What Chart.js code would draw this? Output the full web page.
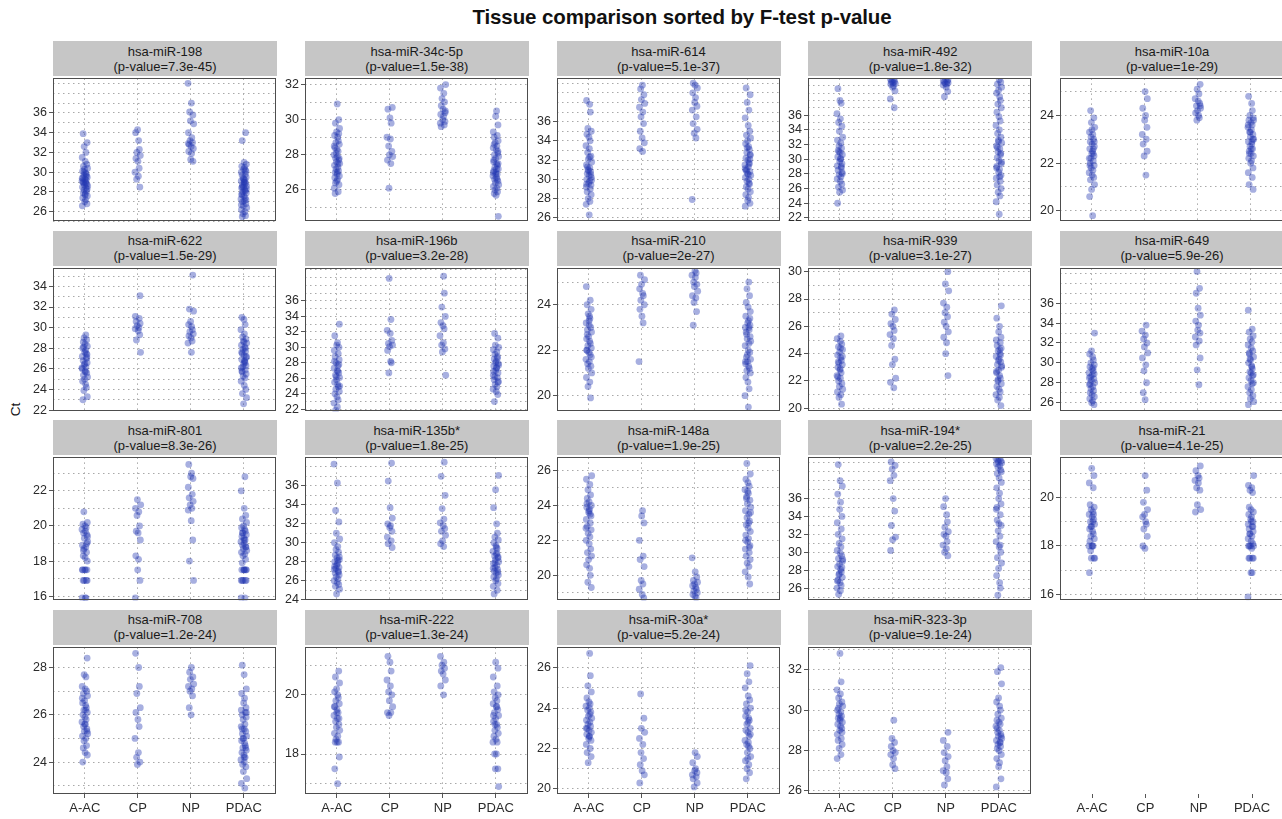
<!DOCTYPE html>
<html><head><meta charset="utf-8">
<script src="https://cdn.jsdelivr.net/npm/chart.js@4.4.1/dist/chart.umd.min.js"></script>
<style>
body{margin:0;background:#fff;width:1282px;height:819px;overflow:hidden;position:relative;font-family:"Liberation Sans",Arial,sans-serif;}
#title{position:absolute;left:382px;width:600px;top:5px;text-align:center;font-weight:bold;font-size:20.5px;color:#111;letter-spacing:-0.1px;}
.strip{position:absolute;background:#c6c6c6;text-align:center;font-size:13px;line-height:15px;color:#1a1a1a;box-sizing:border-box;padding-top:2.5px;white-space:nowrap;}
canvas{position:absolute;}
#ylab{position:absolute;left:3px;top:402px;width:24px;text-align:center;transform:rotate(-90deg);font-size:13.5px;color:#111;}
</style></head>
<body>
<div id="title">Tissue comparison sorted by F-test p-value</div>
<div id="ylab">Ct</div>
<script>
const CATEGORIES = ['A-AC','CP','NP','PDAC'];
const JITTER = [-0.031,0.044,-0.012,0.021,-0.049,0.008,0.037,-0.026,0.052,-0.004,-0.041,0.016,0.029,-0.018,0.047,-0.035,0.003,0.025,-0.053,0.011,-0.022,0.039,-0.008,0.055,-0.044,0.019,-0.015,0.033,-0.029,0.006,0.048,-0.038,0.014,-0.002,0.041,-0.047,0.027];

// hsa-miR-198
const miR198_TICKS=[26,28,30,32,34,36]; const miR198_RANGE=[25.0,39.5];
const miR198_AAC=[33.9,33.0,32.6,32.0,31.5,31.1,30.8,30.6,30.4,30.3,30.1,29.9,29.8,29.7,29.5,29.4,29.3,29.2,29.1,29.0,28.9,28.8,28.7,28.6,28.5,28.4,28.2,28.1,27.9,27.8,27.6,27.4,27.2,27.0,26.8,26.6,29.6,29.0,28.3,30.0,28.9,29.4,27.7];
const miR198_CP=[34.3,34.0,33.2,32.3,32.0,31.7,31.4,31.1,30.4,30.0,29.6,29.3,28.5];
const miR198_NP=[39.0,37.0,36.1,35.8,35.2,34.9,34.0,33.5,33.2,33.0,32.8,32.6,32.4,32.1,31.9,31.3,31.1,32.9];
const miR198_PDAC=[34.0,33.2,31.0,30.8,30.6,30.5,30.3,30.1,30.0,29.8,29.7,29.5,29.4,29.2,29.1,29.0,28.9,28.7,28.6,28.5,28.4,28.2,28.1,28.0,27.9,27.7,27.6,27.4,27.3,27.1,27.0,26.8,26.6,26.4,26.2,26.0,25.8,25.6,25.5,29.0,28.3,27.8,28.8,29.3,27.2,26.7,30.2,28.5];

// hsa-miR-34c-5p
const miR34c_TICKS=[26,28,30,32]; const miR34c_RANGE=[24.2,32.35];
const miR34c_AAC=[30.9,30.0,29.8,29.5,29.3,29.1,29.0,28.8,28.7,28.6,28.4,28.3,28.2,28.0,27.9,27.8,27.7,27.6,27.5,27.4,27.3,27.2,27.1,27.0,26.9,26.8,26.7,26.6,26.5,26.3,26.1,25.9,25.8,27.8,28.1,27.5,28.5,27.0,29.2,26.4];
const miR34c_CP=[30.7,30.6,30.1,29.8,29.0,28.9,28.5,28.2,28.0,27.9,27.7,27.5,26.1];
const miR34c_NP=[32.0,31.8,31.5,31.2,31.0,30.8,30.6,30.5,30.3,30.2,30.0,29.9,29.8,29.7,29.6,30.4];
const miR34c_PDAC=[30.5,30.2,29.7,29.3,29.1,29.0,28.8,28.7,28.5,28.4,28.3,28.1,28.0,27.9,27.8,27.6,27.5,27.4,27.3,27.2,27.1,27.0,26.9,26.8,26.7,26.6,26.5,26.4,26.3,26.2,26.1,26.0,25.9,25.8,25.7,24.5,27.7,27.2,26.9,28.2,27.0,26.6,28.6,27.5];

// hsa-miR-614
const miR614_TICKS=[26,28,30,32,34,36]; const miR614_RANGE=[25.6,40.5];
const miR614_AAC=[38.2,37.8,37.0,35.3,35.0,34.7,34.4,34.0,33.5,33.2,32.8,32.4,32.1,31.8,31.5,31.2,31.0,30.8,30.6,30.4,30.2,30.0,29.8,29.6,29.4,29.2,29.0,28.7,28.4,28.0,27.7,27.4,26.3,30.5,31.3,29.9,30.9,29.5,32.3];
const miR614_CP=[39.8,39.4,38.8,38.3,37.9,37.5,37.0,36.5,35.8,35.0,34.3,33.8,33.2,32.9];
const miR614_NP=[40.0,39.8,39.5,39.0,38.5,38.0,37.6,37.2,36.5,35.8,35.2,34.8,34.3,27.9];
const miR614_PDAC=[39.5,38.8,38.0,37.2,36.4,35.6,35.0,34.6,34.3,34.0,33.7,33.4,33.1,32.8,32.5,32.2,32.0,31.7,31.5,31.3,31.0,30.8,30.6,30.4,30.2,30.0,29.8,29.5,29.2,29.0,28.7,28.4,28.1,27.8,27.5,27.2,31.6,30.9,32.6,33.3,29.6,31.1,30.5,32.1];

// hsa-miR-492
const miR492_TICKS=[22,24,26,28,30,32,34,36]; const miR492_RANGE=[21.5,41.0];
const miR492_AAC=[39.6,38.0,37.6,36.2,35.5,35.0,34.5,33.8,33.0,32.6,32.2,31.8,31.5,31.2,30.9,30.6,30.3,30.0,29.7,29.4,29.1,28.8,28.5,28.2,27.9,27.6,27.3,27.0,26.6,26.2,25.8,25.5,24.0,30.1,29.0,31.0,28.0];
const miR492_CP=[40.9,40.8,40.7,40.6,40.5,40.4,40.3,40.2,40.0,39.8,39.3,38.2,37.0];
const miR492_NP=[40.9,40.8,40.7,40.6,40.5,40.4,40.3,40.2,40.1,39.8,39.2,38.5];
const miR492_PDAC=[40.8,40.5,40.2,39.8,39.4,39.0,38.5,38.0,37.5,37.0,36.4,35.8,35.2,34.6,34.0,33.5,33.0,32.6,32.2,31.8,31.4,31.0,30.6,30.2,29.8,29.4,29.0,28.6,28.2,27.8,27.4,27.0,26.5,26.0,25.5,25.0,24.2,22.5,30.8,31.6,29.6,32.4,28.8,27.6];

// hsa-miR-10a
const miR10a_TICKS=[20,22,24]; const miR10a_RANGE=[19.55,25.55];
const miR10a_AAC=[24.2,23.9,23.7,23.5,23.3,23.2,23.1,23.0,22.9,22.8,22.7,22.6,22.5,22.4,22.3,22.2,22.1,22.0,21.9,21.8,21.7,21.6,21.5,21.4,21.3,21.1,20.9,20.6,19.8,22.6,22.2,22.9,21.9,23.4,22.4];
const miR10a_CP=[25.0,24.7,24.3,24.0,23.8,23.5,23.2,23.0,22.8,22.5,22.3,21.5];
const miR10a_NP=[25.3,25.1,24.9,24.7,24.6,24.5,24.4,24.3,24.2,24.1,24.0,23.9,23.8,24.4];
const miR10a_PDAC=[24.8,24.5,24.2,24.0,23.9,23.8,23.7,23.6,23.5,23.4,23.3,23.2,23.1,23.0,22.9,22.8,22.7,22.6,22.5,22.4,22.3,22.2,22.1,22.0,21.8,21.6,21.4,21.1,20.9,23.3,22.9,23.6,22.6,23.0,22.4,23.8];

// hsa-miR-622
const miR622_TICKS=[22,24,26,28,30,32,34]; const miR622_RANGE=[21.85,35.75];
const miR622_AAC=[29.3,29.0,28.8,28.6,28.4,28.2,28.0,27.8,27.6,27.4,27.2,27.0,26.8,26.6,26.4,26.2,26.0,25.8,25.6,25.4,25.2,25.0,24.8,24.5,24.2,23.9,23.3,23.0,26.5,27.5,26.1,25.7,28.1,27.1];
const miR622_CP=[33.1,31.1,30.9,30.6,30.4,30.2,30.0,29.9,29.7,29.3,28.8,27.6];
const miR622_NP=[35.1,31.8,31.6,30.6,30.3,30.1,29.8,29.6,29.4,29.2,29.0,28.7,28.5,27.6];
const miR622_PDAC=[31.0,30.8,30.3,29.8,29.4,29.1,28.9,28.7,28.5,28.3,28.1,27.9,27.7,27.5,27.3,27.1,26.9,26.7,26.5,26.3,26.1,25.9,25.7,25.5,25.3,25.1,24.8,24.4,24.0,23.6,23.2,22.6,27.6,26.8,28.0,26.2,27.2,25.8,28.6,26.6];

// hsa-miR-196b
const miR196b_TICKS=[22,24,26,28,30,32,34,36]; const miR196b_RANGE=[21.7,40.2];
const miR196b_AAC=[33.0,31.5,30.6,30.3,30.0,29.6,29.2,28.8,28.4,28.0,27.6,27.3,27.0,26.7,26.4,26.1,25.8,25.5,25.2,24.9,24.6,24.3,24.0,23.6,23.2,22.8,22.3,21.9,27.8,26.2,25.0,28.2,26.9];
const miR196b_CP=[38.9,33.6,32.2,31.8,30.9,30.5,30.3,30.1,29.6,28.2,28.0,26.7];
const miR196b_NP=[39.2,37.0,35.2,34.0,33.2,32.8,32.4,31.5,30.6,30.3,29.8,29.4,26.4];
const miR196b_PDAC=[31.8,31.2,30.3,30.0,29.7,29.4,29.1,28.8,28.5,28.2,27.9,27.6,27.3,27.0,26.7,26.4,26.1,25.8,25.5,25.2,24.9,24.6,24.3,23.9,23.0,27.7,28.0,26.9,27.4,28.6,26.2,25.6];

// hsa-miR-210
const miR210_TICKS=[20,22,24]; const miR210_RANGE=[19.3,25.6];
const miR210_AAC=[24.8,24.2,24.0,23.8,23.6,23.4,23.2,23.1,23.0,22.9,22.8,22.6,22.5,22.4,22.3,22.2,22.1,22.0,21.9,21.8,21.6,21.5,21.4,21.3,21.2,21.0,20.8,20.6,20.4,19.9,22.7,23.3,21.7,22.0,23.5];
const miR210_CP=[25.3,25.1,24.9,24.7,24.5,24.4,24.2,24.0,23.8,23.5,23.2,21.5];
const miR210_NP=[25.5,25.4,25.3,25.2,25.0,24.9,24.8,24.6,24.4,24.3,24.1,23.7,23.1];
const miR210_PDAC=[25.0,24.7,24.4,24.1,23.9,23.7,23.5,23.3,23.2,23.1,23.0,22.9,22.8,22.6,22.5,22.3,22.2,22.0,21.9,21.7,21.6,21.5,21.4,21.3,21.2,21.1,21.0,20.8,20.6,20.3,20.0,19.5,22.7,23.4,21.8,22.4,21.5,23.0];

// hsa-miR-939
const miR939_TICKS=[20,22,24,26,28,30]; const miR939_RANGE=[19.76,30.24];
const miR939_AAC=[25.3,25.1,24.9,24.7,24.5,24.3,24.1,23.9,23.7,23.5,23.3,23.2,23.0,22.8,22.6,22.4,22.2,22.0,21.8,21.6,21.4,21.2,21.0,20.8,20.3,23.4,22.9,23.8,22.3,24.4];
const miR939_CP=[27.2,26.9,26.5,26.2,26.0,25.7,25.4,25.1,24.6,23.6,23.2,22.2,21.9,21.5];
const miR939_NP=[30.0,29.1,28.6,27.7,27.4,27.0,26.7,26.3,26.0,25.6,25.2,24.8,24.0,22.4];
const miR939_PDAC=[27.5,26.6,26.0,25.6,25.2,25.0,24.8,24.6,24.4,24.2,24.0,23.8,23.6,23.4,23.2,23.0,22.8,22.6,22.4,22.2,22.0,21.8,21.6,21.4,21.2,21.0,20.8,20.6,20.2,23.5,23.1,22.7,24.3,22.1,23.9];

// hsa-miR-649
const miR649_TICKS=[26,28,30,32,34,36]; const miR649_RANGE=[25.1,39.5];
const miR649_AAC=[33.0,31.2,30.9,30.6,30.3,30.0,29.8,29.6,29.4,29.2,29.0,28.8,28.6,28.4,28.2,28.0,27.8,27.6,27.4,27.2,27.0,26.8,26.6,26.4,26.2,26.0,25.8,28.5,29.5,27.9,28.9];
const miR649_CP=[33.8,33.2,32.8,32.4,32.0,31.6,31.0,30.5,29.8,29.2,28.0,27.0,26.3];
const miR649_NP=[39.2,37.5,37.0,35.5,34.8,34.2,33.8,33.3,33.0,32.6,32.2,31.8,30.5,29.3,27.8];
const miR649_PDAC=[35.3,33.4,33.1,32.7,32.4,32.1,31.8,31.5,31.2,30.9,30.6,30.3,30.0,29.7,29.4,29.1,28.8,28.5,28.2,27.9,27.6,27.3,27.0,26.7,26.4,26.1,25.8,29.6,30.4,28.7,31.0,29.0,28.0];

// hsa-miR-801
const miR801_TICKS=[16,18,20,22]; const miR801_RANGE=[15.75,23.9];
const miR801_AAC=[20.8,20.2,20.1,20.0,19.9,19.8,19.7,19.6,19.5,19.3,19.1,18.9,18.8,18.7,18.5,18.3,18.2,18.0,17.5,17.5,17.5,17.5,17.5,16.9,16.9,16.9,16.9,15.9,15.9,15.9,19.0,18.6,19.4];
const miR801_CP=[21.5,21.2,21.0,20.8,20.6,20.0,19.7,19.6,19.2,18.3,18.1,17.5,16.9,15.9];
const miR801_NP=[23.5,23.0,22.8,22.7,22.2,21.8,21.6,21.4,21.2,21.0,20.9,20.3,19.2,18.0,16.9];
const miR801_PDAC=[22.8,22.0,21.0,20.6,20.4,20.2,20.0,19.9,19.8,19.7,19.6,19.5,19.4,19.3,19.2,19.1,19.0,18.9,18.8,18.7,18.6,18.5,18.4,18.3,18.1,17.9,17.5,17.5,17.5,17.5,17.5,17.5,16.9,16.9,16.9,16.9,16.9,15.9,15.9,19.2,18.8,19.6];

// hsa-miR-135b*
const miR135b_TICKS=[24,26,28,30,32,34,36]; const miR135b_RANGE=[23.9,39.0];
const miR135b_AAC=[38.3,36.3,33.4,32.2,31.0,30.4,30.0,29.6,29.3,29.0,28.7,28.4,28.2,28.0,27.8,27.6,27.4,27.2,27.0,26.8,26.6,26.4,26.2,26.0,25.8,25.6,25.4,25.1,24.6,27.5,28.1,26.9,27.3,28.5];
const miR135b_CP=[38.4,36.5,33.7,32.6,32.0,31.8,31.6,31.2,30.6,30.2,29.9,29.5];
const miR135b_NP=[38.5,37.0,35.0,33.6,32.5,32.1,31.8,31.5,31.2,30.8,30.2,29.9,29.6];
const miR135b_PDAC=[37.1,35.6,33.7,32.0,31.0,30.6,30.3,30.0,29.7,29.4,29.1,28.8,28.6,28.4,28.2,28.0,27.8,27.6,27.4,27.2,27.0,26.8,26.6,26.4,26.2,26.0,25.7,25.4,25.0,24.6,28.5,27.9,28.9,27.3,29.5,26.9];

// hsa-miR-148a
const miR148a_TICKS=[20,22,24,26]; const miR148a_RANGE=[18.55,26.75];
const miR148a_AAC=[25.7,25.5,25.2,24.9,24.6,24.4,24.2,24.0,23.9,23.8,23.6,23.4,23.2,23.0,22.8,22.6,22.4,22.2,22.0,21.8,21.5,21.3,21.1,20.9,20.6,20.4,20.0,19.6,19.3,24.1,23.7,23.5,22.7];
const miR148a_CP=[23.7,23.4,23.0,22.0,21.1,20.9,20.5,19.7,19.5,19.2,18.9,18.7];
const miR148a_NP=[21.0,20.2,19.9,19.7,19.6,19.5,19.4,19.3,19.2,19.1,19.0,18.9,18.8,18.7];
const miR148a_PDAC=[26.4,25.8,25.5,25.3,25.1,24.9,24.7,24.5,24.3,24.1,23.9,23.7,23.5,23.3,23.1,22.9,22.7,22.5,22.3,22.1,21.9,21.7,21.5,21.3,21.1,20.9,20.7,20.5,20.2,19.9,19.5,24.4,23.6,24.8,22.0,23.0,21.6];

// hsa-miR-194*
const miR194_TICKS=[26,28,30,32,34,36]; const miR194_RANGE=[24.6,40.6];
const miR194_AAC=[39.8,38.0,37.4,36.5,35.6,34.8,34.0,33.3,32.6,32.0,31.5,31.0,30.6,30.2,29.9,29.6,29.3,29.0,28.7,28.4,28.1,27.8,27.5,27.2,26.9,26.6,26.3,26.0,25.7,25.3,28.3,27.6,29.2,26.8];
const miR194_CP=[40.1,39.7,39.3,38.6,38.0,36.0,34.6,33.0,31.7,31.4,30.2];
const miR194_NP=[36.0,35.1,34.2,33.4,32.8,32.3,32.0,31.8,31.2,30.8,30.4,30.0,29.6];
const miR194_PDAC=[40.5,40.4,40.3,40.2,40.1,40.0,39.9,39.7,39.5,39.2,38.8,38.3,37.8,37.2,36.6,36.0,35.4,34.8,34.2,33.6,33.0,32.4,31.8,31.2,30.6,30.0,29.4,28.8,28.2,27.4,26.6,26.0,25.2,39.0,35.0,33.2,30.8];

// hsa-miR-21
const miR21_TICKS=[16,18,20]; const miR21_RANGE=[15.75,21.65];
const miR21_AAC=[21.2,20.9,20.6,20.4,19.7,19.6,19.5,19.4,19.3,19.2,19.1,19.0,18.9,18.8,18.7,18.6,18.5,18.4,18.3,18.2,18.0,18.0,18.0,18.0,17.8,17.5,17.5,17.5,16.9,19.0,18.8,19.3];
const miR21_CP=[20.9,20.3,19.8,19.5,19.3,19.2,19.0,18.9,18.7,18.4,18.0,17.9];
const miR21_NP=[21.3,21.1,20.9,20.8,20.7,20.6,20.4,20.3,19.7,19.5,19.4];
const miR21_PDAC=[20.9,20.5,20.4,20.3,20.2,19.6,19.5,19.4,19.3,19.2,19.1,19.0,18.9,18.8,18.7,18.6,18.5,18.4,18.3,18.2,18.1,18.0,18.0,18.0,18.0,17.9,17.5,17.5,17.5,17.5,16.9,16.9,15.9,19.0,18.5,18.8];

// hsa-miR-708
const miR708_TICKS=[24,26,28]; const miR708_RANGE=[22.65,28.85];
const miR708_AAC=[28.4,27.7,27.6,27.2,27.1,27.0,26.9,26.8,26.6,26.5,26.4,26.3,26.2,26.1,26.0,25.9,25.8,25.7,25.6,25.5,25.4,25.3,25.2,25.1,25.0,24.9,24.7,24.6,24.4,24.3,24.0,26.2,25.6,25.3,26.7];
const miR708_CP=[28.6,28.0,27.2,26.9,26.3,26.1,25.8,25.5,25.0,24.4,24.2,24.0,23.9];
const miR708_NP=[28.0,27.8,27.6,27.5,27.3,27.2,27.1,27.0,26.8,26.3,26.0];
const miR708_PDAC=[28.1,27.7,27.1,26.9,26.7,26.5,26.3,26.2,26.1,26.0,25.9,25.8,25.6,25.5,25.4,25.3,25.2,25.1,25.0,24.9,24.8,24.7,24.6,24.5,24.4,24.3,24.2,24.1,24.0,23.9,23.8,23.6,23.3,23.1,22.9,25.0,24.6,25.4,24.2,26.1];

// hsa-miR-222
const miR222_TICKS=[18,20]; const miR222_RANGE=[16.65,21.6];
const miR222_AAC=[20.8,20.6,20.4,20.2,20.1,20.0,19.9,19.8,19.7,19.6,19.5,19.4,19.3,19.2,19.1,19.0,18.9,18.8,18.7,18.6,18.5,18.4,18.4,18.4,17.9,17.5,17.0,19.4,19.2,19.6];
const miR222_CP=[21.3,21.1,20.8,20.5,20.3,20.1,20.0,19.8,19.6,19.4,19.4,19.3];
const miR222_NP=[21.3,21.1,21.0,20.9,20.8,20.7,20.5,20.3,20.0];
const miR222_PDAC=[21.1,20.9,20.6,20.3,20.1,20.0,19.9,19.8,19.7,19.6,19.5,19.4,19.3,19.2,19.1,19.0,18.9,18.8,18.7,18.6,18.5,18.4,18.4,18.0,18.0,17.5,17.5,16.9,19.3,19.6,19.0];

// hsa-miR-30a*
const miR30a_TICKS=[20,22,24,26]; const miR30a_RANGE=[19.75,27.0];
const miR30a_AAC=[26.7,25.6,25.1,24.8,24.5,24.3,24.2,24.1,24.0,23.9,23.8,23.6,23.5,23.4,23.3,23.2,23.1,23.0,22.9,22.8,22.7,22.6,22.5,22.4,22.2,22.0,21.8,21.6,21.3,23.7,23.0,22.6];
const miR30a_CP=[24.7,23.5,23.0,22.8,22.5,22.2,21.8,21.5,21.2,20.9,20.7,20.3];
const miR30a_NP=[21.8,21.6,21.3,21.0,20.9,20.8,20.7,20.6,20.5,20.3,20.1];
const miR30a_PDAC=[26.1,25.7,25.3,25.0,24.6,24.4,24.2,24.0,23.8,23.6,23.5,23.4,23.2,23.0,22.9,22.8,22.6,22.4,22.3,22.2,22.0,21.8,21.6,21.4,21.2,21.0,20.8,20.5,23.3,22.7,23.9,22.1,21.5];

// hsa-miR-323-3p
const miR323_TICKS=[26,28,30,32]; const miR323_RANGE=[25.85,33.1];
const miR323_AAC=[32.8,31.4,31.0,30.8,30.6,30.4,30.3,30.2,30.0,29.9,29.8,29.7,29.6,29.5,29.4,29.3,29.2,29.0,28.9,28.8,28.6,28.5,28.3,28.1,27.8,27.6,29.6,29.1,30.1];
const miR323_CP=[29.5,28.6,28.4,28.2,28.0,27.9,27.8,27.6,27.3,27.1];
const miR323_NP=[28.9,28.5,28.2,27.9,27.7,27.5,27.2,27.0,26.9,26.6,26.3];
const miR323_PDAC=[32.1,31.9,31.3,30.6,30.4,30.2,30.0,29.8,29.6,29.5,29.4,29.3,29.2,29.0,28.9,28.8,28.7,28.6,28.5,28.4,28.3,28.2,28.1,28.0,27.8,27.6,27.4,27.2,26.6,26.2,28.4,29.1,28.7];

const PANELS = [
 {gene:'hsa-miR-198', p:'7.3e-45', ticks:miR198_TICKS, range:miR198_RANGE, groups:[miR198_AAC,miR198_CP,miR198_NP,miR198_PDAC]},
 {gene:'hsa-miR-34c-5p', p:'1.5e-38', ticks:miR34c_TICKS, range:miR34c_RANGE, groups:[miR34c_AAC,miR34c_CP,miR34c_NP,miR34c_PDAC]},
 {gene:'hsa-miR-614', p:'5.1e-37', ticks:miR614_TICKS, range:miR614_RANGE, groups:[miR614_AAC,miR614_CP,miR614_NP,miR614_PDAC]},
 {gene:'hsa-miR-492', p:'1.8e-32', ticks:miR492_TICKS, range:miR492_RANGE, groups:[miR492_AAC,miR492_CP,miR492_NP,miR492_PDAC]},
 {gene:'hsa-miR-10a', p:'1e-29', ticks:miR10a_TICKS, range:miR10a_RANGE, groups:[miR10a_AAC,miR10a_CP,miR10a_NP,miR10a_PDAC]},
 {gene:'hsa-miR-622', p:'1.5e-29', ticks:miR622_TICKS, range:miR622_RANGE, groups:[miR622_AAC,miR622_CP,miR622_NP,miR622_PDAC]},
 {gene:'hsa-miR-196b', p:'3.2e-28', ticks:miR196b_TICKS, range:miR196b_RANGE, groups:[miR196b_AAC,miR196b_CP,miR196b_NP,miR196b_PDAC]},
 {gene:'hsa-miR-210', p:'2e-27', ticks:miR210_TICKS, range:miR210_RANGE, groups:[miR210_AAC,miR210_CP,miR210_NP,miR210_PDAC]},
 {gene:'hsa-miR-939', p:'3.1e-27', ticks:miR939_TICKS, range:miR939_RANGE, groups:[miR939_AAC,miR939_CP,miR939_NP,miR939_PDAC]},
 {gene:'hsa-miR-649', p:'5.9e-26', ticks:miR649_TICKS, range:miR649_RANGE, groups:[miR649_AAC,miR649_CP,miR649_NP,miR649_PDAC]},
 {gene:'hsa-miR-801', p:'8.3e-26', ticks:miR801_TICKS, range:miR801_RANGE, groups:[miR801_AAC,miR801_CP,miR801_NP,miR801_PDAC]},
 {gene:'hsa-miR-135b*', p:'1.8e-25', ticks:miR135b_TICKS, range:miR135b_RANGE, groups:[miR135b_AAC,miR135b_CP,miR135b_NP,miR135b_PDAC]},
 {gene:'hsa-miR-148a', p:'1.9e-25', ticks:miR148a_TICKS, range:miR148a_RANGE, groups:[miR148a_AAC,miR148a_CP,miR148a_NP,miR148a_PDAC]},
 {gene:'hsa-miR-194*', p:'2.2e-25', ticks:miR194_TICKS, range:miR194_RANGE, groups:[miR194_AAC,miR194_CP,miR194_NP,miR194_PDAC]},
 {gene:'hsa-miR-21', p:'4.1e-25', ticks:miR21_TICKS, range:miR21_RANGE, groups:[miR21_AAC,miR21_CP,miR21_NP,miR21_PDAC]},
 {gene:'hsa-miR-708', p:'1.2e-24', ticks:miR708_TICKS, range:miR708_RANGE, groups:[miR708_AAC,miR708_CP,miR708_NP,miR708_PDAC]},
 {gene:'hsa-miR-222', p:'1.3e-24', ticks:miR222_TICKS, range:miR222_RANGE, groups:[miR222_AAC,miR222_CP,miR222_NP,miR222_PDAC]},
 {gene:'hsa-miR-30a*', p:'5.2e-24', ticks:miR30a_TICKS, range:miR30a_RANGE, groups:[miR30a_AAC,miR30a_CP,miR30a_NP,miR30a_PDAC]},
 {gene:'hsa-miR-323-3p', p:'9.1e-24', ticks:miR323_TICKS, range:miR323_RANGE, groups:[miR323_AAC,miR323_CP,miR323_NP,miR323_PDAC]}
];

// ---- layout / style ----
const L0 = 53, COL_STEP = 251.75, PW = 224;
const T0 = 41, ROW_STEP = 189.5, HEAD_H = 35, PH = 149;
const YAX_W = 30, XAX_H = 24;
const POINT_COLOR = 'rgba(36,56,178,0.4)';
const GRID_COLOR = '#a9a9a9';
const GRID_DASH = [1.5,3.5];
const TXT = '#2b2b2b';
const FONT = {family:'"Liberation Sans", Arial, sans-serif', size:12.5};

const framePlugin = {
  id:'frame',
  afterDraw(chart, args, opts){
    if(!opts.show) return;
    const a = chart.chartArea, c = chart.ctx;
    c.save(); c.strokeStyle = '#4d4d4d'; c.lineWidth = 1;
    c.strokeRect(Math.round(a.left)+0.5, Math.round(a.top)+0.5, Math.round(a.right-a.left)-1, Math.round(a.bottom-a.top)-1);
    c.restore();
  }
};

function xScale(showLabels, gridOnArea){
  return {
    type:'linear', min:0.4, max:4.6,
    afterBuildTicks(s){ s.ticks = CATEGORIES.map((c,i)=>({value:i+1})); },
    afterFit(s){ s.height = showLabels ? XAX_H : 0; s.paddingLeft=0; s.paddingRight=0; },
    ticks:{display:showLabels, font:{family:FONT.family,size:13}, color:TXT, padding:3, maxRotation:0, autoSkip:false,
           callback:(v)=>CATEGORIES[Math.round(v)-1]},
    grid:{display:true, drawOnChartArea:gridOnArea, drawTicks:showLabels, tickLength:4, tickColor:'#555', tickWidth:1,
          color:GRID_COLOR, lineWidth:1, tickBorderDash:[]},
    border:{display:false, dash:GRID_DASH}
  };
}

function makeChart(canvas, datasets, opts){
  return new Chart(canvas, {
    type:'scatter',
    data:{datasets},
    options:{
      responsive:false, animation:false, events:[],
      layout:{padding:{top:1,right:2,left:0,bottom:0}},
      plugins:{legend:{display:false}, tooltip:{enabled:false}, frame:{show:opts.frame}},
      scales:opts.scales
    },
    plugins:[framePlugin]
  });
}

PANELS.forEach((p, i)=>{
  const col = i % 5, row = Math.floor(i / 5);
  const left = L0 + col*COL_STEP;
  const top = T0 + row*ROW_STEP;
  const strip = document.createElement('div');
  strip.className = 'strip';
  strip.style.left = left+'px'; strip.style.top = top+'px';
  strip.style.width = PW+'px'; strip.style.height = HEAD_H+'px';
  strip.innerHTML = p.gene + '<br>(p-value=' + p.p + ')';
  document.body.appendChild(strip);

  const bottomRow = (i >= 15);
  const cv = document.createElement('canvas');
  const cw = YAX_W + PW + 2, ch = 1 + PH + (bottomRow ? XAX_H : 0);
  cv.width = cw; cv.height = ch;
  cv.style.width = cw+'px'; cv.style.height = ch+'px';
  cv.style.left = (left - YAX_W)+'px'; cv.style.top = (top + HEAD_H - 1)+'px';
  document.body.appendChild(cv);

  const pts = [];
  p.groups.forEach((vals, g)=>{
    vals.forEach((v, k)=>{ pts.push({x:g+1+JITTER[(k+g*9+i*5)%JITTER.length], y:v}); });
  });
  const [ymin, ymax] = p.range;
  const gridVals = [];
  for(let v=Math.ceil(ymin); v<=Math.floor(ymax); v++) gridVals.push(v);

  makeChart(cv, [{data:pts, backgroundColor:POINT_COLOR, borderWidth:0, pointRadius:3.4, pointHoverRadius:3.4}], {
    frame:true,
    scales:{
      x: xScale(bottomRow, true),
      y:{
        type:'linear', min:ymin, max:ymax,
        afterBuildTicks(s){ s.ticks = gridVals.map(v=>({value:v})); },
        afterFit(s){ s.width = YAX_W; s.paddingTop=0; s.paddingBottom=0; },
        ticks:{font:FONT, color:TXT, padding:2, autoSkip:false,
               callback:(v)=> p.ticks.includes(v) ? String(v) : ''},
        grid:{color:GRID_COLOR, lineWidth:1, drawTicks:true, tickLength:4, tickBorderDash:[],
              tickColor:(ctx)=> (ctx.tick && p.ticks.includes(ctx.tick.value)) ? '#555' : 'rgba(0,0,0,0)'},
        border:{display:false, dash:GRID_DASH}
      }
    }
  });
});

// empty 5th column of the last row: x axis only
(function(){
  const left = L0 + 4*COL_STEP, top = T0 + 3*ROW_STEP;
  const cv = document.createElement('canvas');
  const cw = YAX_W + PW + 2, ch = 1 + 10 + XAX_H;
  cv.width = cw; cv.height = ch; cv.style.width = cw+'px'; cv.style.height = ch+'px';
  cv.style.left = (left - YAX_W)+'px'; cv.style.top = (top + HEAD_H + PH - 11)+'px';
  document.body.appendChild(cv);
  makeChart(cv, [{data:[], pointRadius:0}], {
    frame:false,
    scales:{
      x: xScale(true, false),
      y:{type:'linear', min:0, max:1, display:true,
         afterFit(s){ s.width = YAX_W; s.paddingTop=0; s.paddingBottom=0; },
         ticks:{display:false}, grid:{display:false}, border:{display:false}}
    }
  });
})();
</script>
</body></html>
